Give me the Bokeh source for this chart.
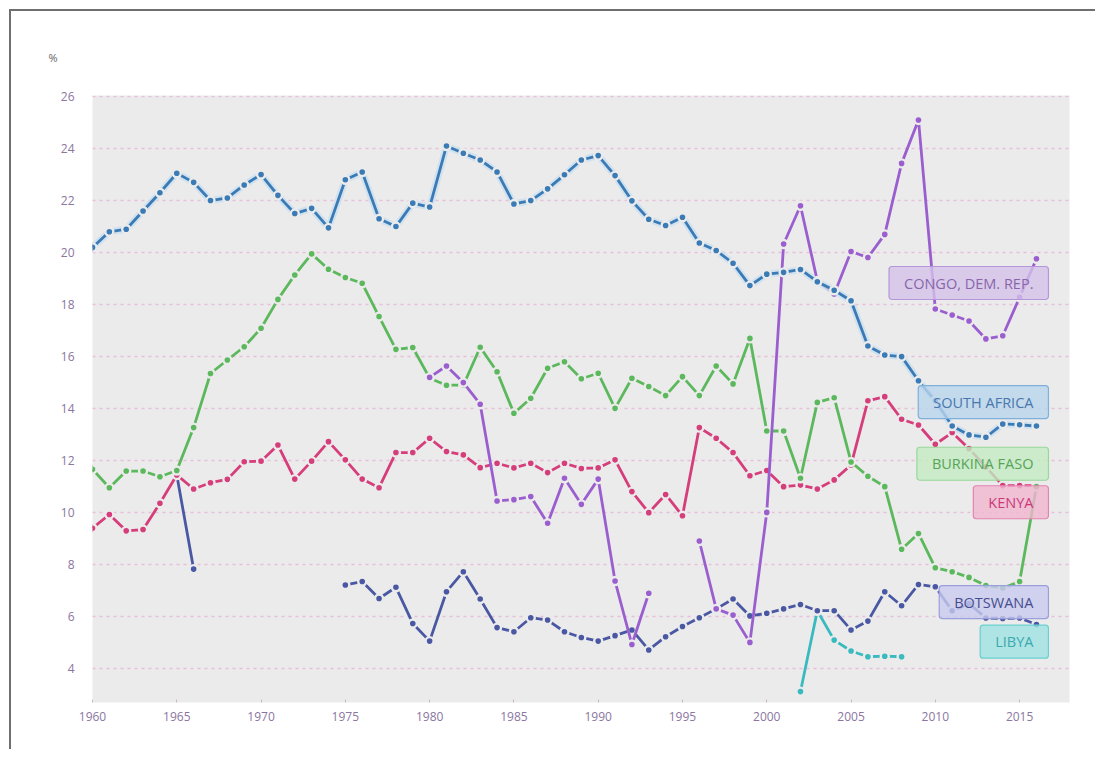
import math
from bokeh.plotting import figure
from bokeh.models import (ColumnDataSource, FixedTicker, Label, Range1d, Title)
from bokeh.embed import file_html
from bokeh.resources import INLINE

N = float("nan")

years = list(range(1960, 2017))

south_africa = [
    20.2, 20.8, 20.9, 21.6, 22.3, 23.05, 22.7, 22.0, 22.1, 22.6,
    23.0, 22.2, 21.5, 21.7, 20.95, 22.8, 23.1, 21.3, 21.0, 21.9,
    21.75, 24.1, 23.82, 23.56, 23.1, 21.87, 22.0, 22.45, 22.99, 23.56,
    23.73, 22.96, 21.99, 21.28, 21.04, 21.36, 20.37, 20.08, 19.59, 18.73,
    19.17, 19.24, 19.35, 18.88, 18.55, 18.15, 16.41, 16.06, 16.0, 15.07,
    14.3, 13.33, 12.99, 12.9, 13.41, 13.38, 13.33]

burkina_faso = [
    11.67, 10.96, 11.6, 11.6, 11.38, 11.62, 13.27, 15.35, 15.87, 16.38,
    17.09, 18.2, 19.14, 19.95, 19.36, 19.04, 18.82, 17.54, 16.28, 16.35,
    15.17, 14.9, 14.9, 16.36, 15.42, 13.82, 14.4, 15.55, 15.8, 15.15,
    15.36, 14.01, 15.17, 14.85, 14.5, 15.23, 14.5, 15.64, 14.95, 16.7,
    13.14, 13.14, 11.32, 14.24, 14.42, 11.95, 11.4, 11.0, 8.59, 9.2,
    7.88, 7.73, 7.51, 7.2, 7.1, 7.35, 11.0]

kenya = [
    9.4, 9.93, 9.3, 9.35, 10.36, 11.45, 10.91, 11.15, 11.28, 11.96,
    11.98, 12.6, 11.29, 11.98, 12.73, 12.03, 11.29, 10.96, 12.31, 12.31,
    12.86, 12.35, 12.22, 11.73, 11.9, 11.72, 11.9, 11.54, 11.9, 11.7,
    11.72, 12.03, 10.81, 10.0, 10.7, 9.88, 13.27, 12.86, 12.31, 11.42,
    11.62, 11.0, 11.06, 10.91, 11.26, 11.83, 14.3, 14.46, 13.59, 13.37,
    12.63, 13.08, 12.46, 11.76, 11.04, 11.04, 11.04]

congo = [N] * 20 + [
    15.2, 15.64, 15.0, 14.17, 10.45, 10.5, 10.62, 9.59, 11.32, 10.32,
    11.29, 7.37, 4.93, 6.9, N, N, 8.91, 6.3, 6.06, 5.01,
    10.01, 20.33, 21.8, 18.91, 18.41, 20.04, 19.81, 20.7, 23.43, 25.1,
    17.83, 17.6, 17.37, 16.68, 16.8, 18.28, 19.76]

botswana = [N] * 5 + [11.45, 7.83] + [N] * 8 + [
    7.22, 7.35, 6.7, 7.13, 5.74,
    5.06, 6.96, 7.73, 6.68, 5.58, 5.42, 5.96, 5.87, 5.42, 5.2,
    5.06, 5.27, 5.49, 4.72, 5.23, 5.62, 5.96, 6.3, 6.68, 6.03,
    6.13, 6.3, 6.47, 6.23, 6.23, 5.49, 5.83, 6.96, 6.42, 7.24,
    7.15, 6.23, 6.5, 5.95, 5.93, 5.95, 5.7]

libya = [N] * 42 + [3.12, 6.23, 5.1, 4.68, 4.46, 4.48, 4.46] + [N] * 8

series_names = ["CONGO, DEM. REP.", "SOUTH AFRICA", "BURKINA FASO", "KENYA", "BOTSWANA", "LIBYA"]
series_values = [congo, south_africa, burkina_faso, kenya, botswana, libya]

x_ticks = list(range(1960, 2016, 5))
y_ticks = list(range(4, 27, 2))

# styling
line_colors = ["#9b5ecf", "#3a7bb6", "#5cb85c", "#d63d7b", "#4a58a4", "#38babe"]
box_fill = ["#d4c2ea", "#b9d5ec", "#c3ebc3", "#f1b6cf", "#c8caef", "#9fe2e2"]
box_line = ["#b596d9", "#7fb0d9", "#98d898", "#e284b0", "#9a9eda", "#6ad0d0"]
text_cols = ["#8866aa", "#4877ad", "#56a556", "#c9397a", "#474d8e", "#3aa9b0"]
label_y = [18.83, 14.25, 11.88, 10.4, 6.56, 5.04]   # layout anchors of the tag boxes

FRAME_BG = "#ebebeb"

p = figure(width=1086, height=740, output_backend="svg", toolbar_location=None,
           x_range=Range1d(1960, 2017.96), y_range=Range1d(2.7, 26.04),
           min_border_left=81, min_border_right=28, min_border_top=84, min_border_bottom=49)
p.styles = {"border-left": "2px solid #6f6f6f", "border-top": "2px solid #6f6f6f",
            "margin-left": "9px", "margin-top": "9px"}
p.background_fill_color = FRAME_BG
p.border_fill_color = "white"
p.outline_line_color = None

p.xgrid.grid_line_color = None
p.ygrid.ticker = FixedTicker(ticks=y_ticks)
p.ygrid.grid_line_color = "#e6bfd8"
p.ygrid.grid_line_dash = "3 4"
p.ygrid.grid_line_width = 1.5

p.xaxis.ticker = FixedTicker(ticks=x_ticks)
p.yaxis.ticker = FixedTicker(ticks=y_ticks)
for ax in (p.xaxis[0], p.yaxis[0]):
    ax.axis_line_color = None
    ax.minor_tick_line_color = None
    ax.major_label_text_color = "#8a76a0"
    ax.major_label_text_font = "Open Sans"
    ax.major_label_text_font_size = "12px"
p.xaxis.major_tick_in = 3
p.xaxis.major_tick_out = 0
p.xaxis.major_tick_line_color = "#cdb4cf"
p.xaxis.major_label_standoff = 9
p.yaxis.major_tick_line_color = None
p.yaxis.major_label_standoff = 12

p.add_layout(Title(text="%", align="left", offset=-44, standoff=62,
                   text_font="Open Sans", text_font_size="11px",
                   text_color="#666666", text_font_style="normal"), "above")

# draw series (back to front: lowest first so Congo / South Africa sit on top)
order = [5, 4, 3, 2, 0, 1]
for i in order:
    src = ColumnDataSource(dict(x=years, y=series_values[i]))
    if i == 1:
        p.line("x", "y", source=src, line_color="#c9def0", line_width=7, line_alpha=0.8)
    p.line("x", "y", source=src, line_color=line_colors[i], line_width=2.8)
    p.scatter("x", "y", source=src, size=8, fill_color=line_colors[i],
              line_color=FRAME_BG, line_width=2.4)

for i, name in enumerate(series_names):
    p.add_layout(Label(x=2016.77, y=label_y[i], text=name, text_align="right",
                       text_baseline="middle", x_offset=-1,
                       text_font="Open Sans", text_font_size="14.5px",
                       text_color=text_cols[i],
                       background_fill_color=box_fill[i], background_fill_alpha=0.8,
                       border_line_color=box_line[i], border_line_width=1.2,
                       padding=(15, 7), border_radius=3))

open("out.html", "w").write(file_html(p, INLINE))
